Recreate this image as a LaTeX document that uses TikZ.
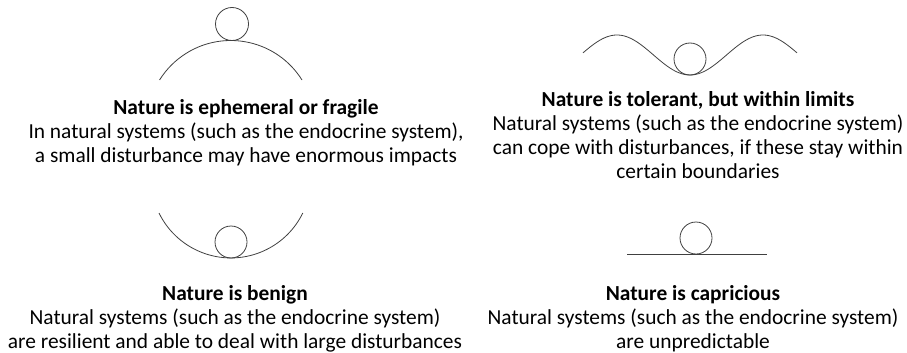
\documentclass[tikz,border=0pt]{standalone}
\usepackage{fontspec}
\setmainfont{Carlito}
\usetikzlibrary{positioning}

\begin{document}
\begin{tikzpicture}[x=1pt, y=-1pt,
		caption/.style={align=center, inner sep=0pt, anchor=base, font=\fontsize{21.4}{23.7}\selectfont},
		curve/.style={draw=black!75, line width=0.8pt},
		ball/.style={draw=black!75, line width=0.8pt}
		]
		\useasboundingbox (0,0) rectangle (907,353);
		
		% Fragile: ball on top of a hill
		\draw[curve] (302,80) arc[start angle=-32, end angle=-148, radius=84];
		\draw[ball] (232,24) circle[radius=16.5];
		
		% Tolerant: ball in a wave trough
		\draw[curve] plot[domain=-107:107, samples=90, smooth] ({690+\x}, {55+20*cos(\x*2.4658)});
		\draw[ball] (690,59) circle[radius=16];
		
		% Benign: ball in a bowl
		\draw[curve] (159,213) arc[start angle=154, end angle=26, radius=80];
		\draw[ball] (231,242) circle[radius=16];
		
		% Capricious: ball on a flat line
		\draw[curve] (627,254) -- (767,254);
		\draw[ball] (696,238) circle[radius=16];
		
		% Captions (anchored at the baseline of their last line)
		\node[caption] (fragile) at (246,162) {\textbf{Nature is ephemeral or fragile}\\In natural systems (such as the endocrine system),\\a small disturbance may have enormous impacts};
		\node[caption] (tolerant) at (698,178) {\textbf{Nature is tolerant, but within limits}\\Natural systems (such as the endocrine system)\\can cope with disturbances, if these stay within\\certain boundaries};
		\node[caption] (benign) at (235,348) {\textbf{Nature is benign}\\Natural systems (such as the endocrine system)\\are resilient and able to deal with large disturbances};
		\node[caption] (capricious) at (693,348) {\textbf{Nature is capricious}\\Natural systems (such as the endocrine system)\\are unpredictable};
	\end{tikzpicture}
\end{document}
